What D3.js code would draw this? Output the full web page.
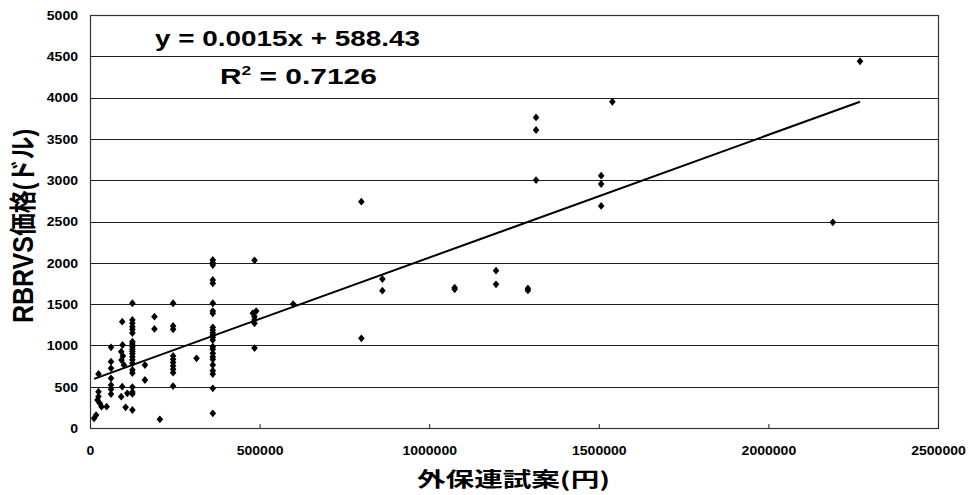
<!DOCTYPE html>
<html>
<head>
<meta charset="utf-8">
<script src="https://cdn.jsdelivr.net/npm/d3@7"></script>
<style>
  body { margin: 0; background: #fff; }
  text { font-family: "Liberation Sans", Arial, "Noto Sans CJK JP", sans-serif; font-weight: bold; fill: #000; }
</style>
</head>
<body>
<script>
// values (x = 外保連試案 yen, y = RBRVS dollars)
var xVals = [12000, 18000, 22000, 25000, 25000, 29000, 34000, 49000, 25000,
  62000, 62000, 62000, 62000, 62000, 62000, 62000,
  95000, 96000, 92000, 97000, 93000, 100000, 95000, 92000, 105000, 110000,
  125000, 125000, 125000, 125000, 125000, 125000, 125000, 125000, 125000, 125000, 125000,
  125000, 125000, 125000, 125000, 125000, 125000, 125000, 125000, 125000, 125000,
  162000, 162000, 190000, 190000, 206000,
  245000, 245000, 245000, 245000, 245000, 245000, 245000, 245000, 245000, 245000,
  314000,
  362000, 362000, 362000, 362000, 362000, 362000, 362000, 362000, 362000, 362000, 362000, 362000,
  362000, 362000, 362000, 362000, 362000, 362000, 362000, 362000, 362000, 362000, 362000, 362000,
  485000, 490000, 480000, 485000, 485000, 485000, 485000,
  599000, 800000, 800000, 862000, 862000, 1075000, 1075000, 1197000, 1197000,
  1291000, 1291000, 1315000, 1315000, 1315000, 1507000, 1507000, 1507000,
  1540000, 2190000, 2270000];
var yVals = [117, 157, 339, 440, 380, 299, 258, 258, 654,
  977, 803, 722, 601, 520, 469, 411,
  1287, 1005, 924, 872, 823, 763, 500, 379, 250, 420,
  1510, 1308, 1267, 1227, 1194, 1150, 1045, 1017, 984, 953, 925,
  899, 864, 825, 783, 702, 666, 496, 436, 412, 218,
  763, 581, 1348, 1199, 105,
  1510, 1235, 1195, 872, 832, 792, 751, 710, 670, 508,
  844,
  2034, 2001, 1973, 1792, 1752, 1510, 1416, 1388, 1219, 1186, 1154, 1126,
  1098, 1065, 984, 953, 904, 864, 832, 763, 694, 654, 480, 178,
  2030, 1416, 1390, 1348, 1308, 1267, 968,
  1500, 2740, 1086, 1804, 1663, 1699, 1680, 1905, 1740,
  1690, 1665, 3760, 3608, 3002, 3055, 2954, 2688,
  3950, 2490, 4440];

var xTicks = [0, 500000, 1000000, 1500000, 2000000, 2500000];
var yTicks = [0, 500, 1000, 1500, 2000, 2500, 3000, 3500, 4000, 4500, 5000];

// trendline end points as drawn
var trendX = [12000, 2270000];
var trendY = [595, 3950];

var eqText = "y = 0.0015x + 588.43";
var r2Value = "0.7126";
var xTitle = "外保連試案(円)";
var yTitleLatin = "RBRVS";
var yTitleKana = "価格(ドル)";

var width = 969, height = 495;
var stretch = 1.17; // scan is a bit wider than tall

var svg = d3.select("body").append("svg")
    .attr("width", width)
    .attr("height", height);

svg.append("rect").attr("width", width).attr("height", height).attr("fill", "#fff");

var x = d3.scaleLinear().domain([0, 2500000]).range([90, 938]);
var y = d3.scaleLinear().domain([0, 5000]).range([428, 15]);

// grid lines
svg.append("g")
  .selectAll("line")
  .data(yTicks.filter(function(d) { return d > 0 && d < 5000; }))
  .enter().append("line")
    .attr("x1", x(0)).attr("x2", x(2500000))
    .attr("y1", function(d) { return Math.round(y(d)) + 0.5; })
    .attr("y2", function(d) { return Math.round(y(d)) + 0.5; })
    .attr("stroke", "#1e1e1e")
    .attr("stroke-width", 1);

// plot border
svg.append("rect")
    .attr("x", x(0) + 0.5).attr("y", y(5000) + 0.5)
    .attr("width", x(2500000) - x(0)).attr("height", y(0) - y(5000))
    .attr("fill", "none")
    .attr("stroke", "#333")
    .attr("stroke-width", 1.2);

// x axis
var xAxis = svg.append("g")
    .attr("transform", "translate(0," + y(0) + ")")
    .call(d3.axisBottom(x).tickValues(xTicks).tickSizeInner(-4).tickSizeOuter(0).tickFormat(d3.format("d")));
xAxis.select(".domain").remove();
xAxis.selectAll("line").attr("stroke", "#222");
xAxis.selectAll("text")
    .attr("y", 27).attr("dy", null)
    .attr("transform", "scale(" + stretch + ",1)")
    .style("font-size", "12px")
    .style("font-family", "Liberation Sans, Arial, sans-serif")
    .style("font-weight", "bold")
    .attr("fill", "#000");

// y axis
var yAxis = svg.append("g")
    .attr("transform", "translate(" + x(0) + ",0)")
    .call(d3.axisLeft(y).tickValues(yTicks).tickSize(0).tickFormat(d3.format("d")));
yAxis.select(".domain").remove();
yAxis.selectAll("text")
    .attr("x", -12 / stretch)
    .attr("dy", "0.36em")
    .attr("transform", "scale(" + stretch + ",1)")
    .style("font-size", "12px")
    .style("font-family", "Liberation Sans, Arial, sans-serif")
    .style("font-weight", "bold")
    .attr("fill", "#000");

// trendline
var trend = trendX.map(function(d, i) { return [d, trendY[i]]; });
svg.append("path")
    .datum(trend)
    .attr("fill", "none")
    .attr("stroke", "#000")
    .attr("stroke-width", 2)
    .attr("d", d3.line().x(function(d) { return x(d[0]); }).y(function(d) { return y(d[1]); }));

// points (diamond markers)
var pts = xVals.map(function(d, i) { return [d, yVals[i]]; });
svg.append("g")
  .selectAll("path")
  .data(pts)
  .enter().append("path")
    .attr("d", "M0,-3.9L3.3,0L0,3.9L-3.3,0Z")
    .attr("fill", "#000")
    .attr("transform", function(d) { return "translate(" + x(d[0]) + "," + y(d[1]) + ")"; });

// equation
svg.append("text")
    .attr("x", 155).attr("y", 46)
    .attr("textLength", 265)
    .attr("lengthAdjust", "spacingAndGlyphs")
    .style("font-size", "22.5px")
    .text(eqText);

var r2 = svg.append("text")
    .attr("x", 220).attr("y", 84)
    .style("font-size", "22.5px");
r2.append("tspan").text("R");
r2.append("tspan").attr("dy", -9).style("font-size", "13px").text("2");
r2.append("tspan").attr("dy", 9).text(" = " + r2Value);
r2.attr("transform", "translate(220,0) scale(1.33,1) translate(-220,0)");

// axis titles
svg.append("text")
    .attr("x", 417).attr("y", 487)
    .attr("textLength", 193)
    .attr("lengthAdjust", "spacingAndGlyphs")
    .style("font-size", "20px")
    .style("font-family", "Noto Sans CJK JP, sans-serif")
    .style("font-weight", "bold")
    .text(xTitle);

var yt = svg.append("text")
    .attr("transform", "translate(33,226) scale(" + stretch + ",1) rotate(-90)")
    .attr("text-anchor", "middle");
yt.append("tspan").style("font-size", "25px").text(yTitleLatin);
yt.append("tspan").style("font-size", "23px").text(yTitleKana);
</script>
</body>
</html>
